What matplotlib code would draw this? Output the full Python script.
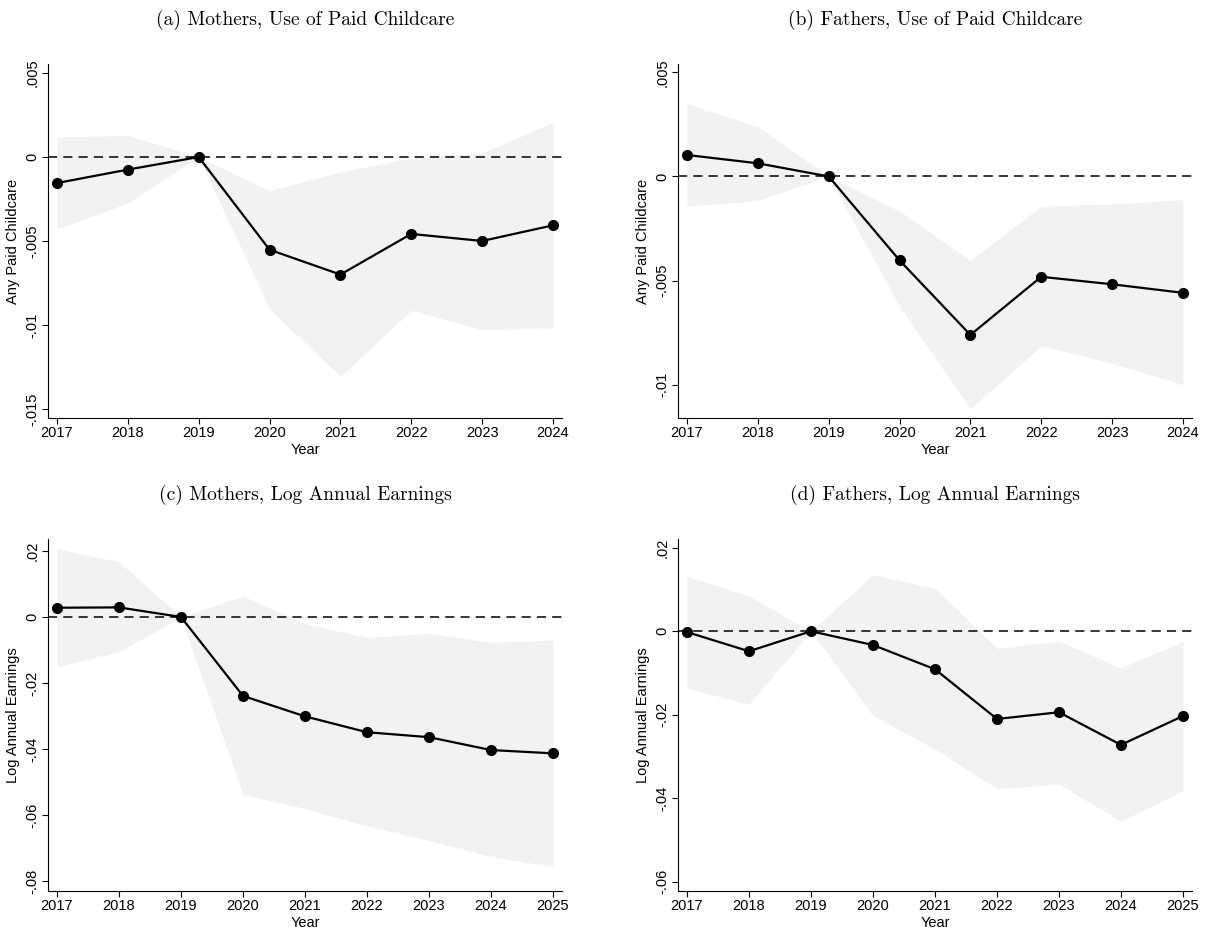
import numpy as np
import matplotlib.pyplot as plt

plt.rcParams['font.family'] = ['Liberation Sans', 'DejaVu Sans']

years_a = [2017, 2018, 2019, 2020, 2021, 2022, 2023, 2024]
years_c = [2017, 2018, 2019, 2020, 2021, 2022, 2023, 2024, 2025]

# (a) mothers, any paid childcare
coef_a = [-0.00155, -0.00075, 0.0, -0.00552, -0.0070, -0.00458, -0.0050, -0.00407]
hi_a = [0.00119, 0.00129, 0.0, -0.0020, -0.00089, -0.00006, 0.00024, 0.00206]
lo_a = [-0.00429, -0.00274, 0.0, -0.00905, -0.01306, -0.00913, -0.01028, -0.01018]

# (b) fathers, any paid childcare
coef_b = [0.00103, 0.00063, 0.0, -0.00403, -0.00761, -0.00482, -0.00518, -0.00559]
hi_b = [0.0035, 0.00239, 0.0, -0.00167, -0.00403, -0.00143, -0.00133, -0.00112]
lo_b = [-0.00143, -0.00116, 0.0, -0.00624, -0.01116, -0.00814, -0.00897, -0.0100]

# (c) mothers, log annual earnings
coef_c = [0.0028, 0.0029, 0.0, -0.0239, -0.0301, -0.0349, -0.0364, -0.0403, -0.0413]
hi_c = [0.0207, 0.0167, 0.0, 0.0063, -0.0020, -0.0062, -0.0050, -0.0077, -0.0070]
lo_c = [-0.0151, -0.0106, 0.0, -0.0538, -0.0580, -0.0633, -0.0677, -0.0726, -0.0756]

# (d) fathers, log annual earnings
coef_d = [-0.0002, -0.0048, 0.0, -0.0033, -0.0091, -0.0210, -0.0194, -0.0272, -0.0203]
hi_d = [0.0132, 0.0084, 0.0, 0.0135, 0.0103, -0.0041, -0.0024, -0.0088, -0.0024]
lo_d = [-0.0136, -0.0175, 0.0, -0.0202, -0.0282, -0.0377, -0.0366, -0.0455, -0.0382]

yticks_care_a = [0.005, 0.0, -0.005, -0.01, -0.015]
yticks_care_b = [0.005, 0.0, -0.005, -0.01]
yticks_earn_c = [0.02, 0.0, -0.02, -0.04, -0.06, -0.08]
yticks_earn_d = [0.02, 0.0, -0.02, -0.04, -0.06]


def stata_label(v):
    # Stata-style labels: drop the leading zero, plain "0" at the origin
    if v == 0:
        return '0'
    return ('%g' % v).replace('0.', '.')


fig = plt.figure(figsize=(12.09, 9.34), dpi=100)

top_row = 0.5525
bot_row = 0.0460
panels = [
    ([0.0397, top_row, 0.4251, 0.379], years_a, coef_a, hi_a, lo_a, yticks_care_a,
     (-0.01554, 0.00554), 'Any Paid Childcare', '(a) Mothers, Use of Paid Childcare'),
    ([0.5608, top_row, 0.4251, 0.379], years_a, coef_b, hi_b, lo_b, yticks_care_b,
     (-0.0116, 0.0054), 'Any Paid Childcare', '(b) Fathers, Use of Paid Childcare'),
    ([0.0397, bot_row, 0.4251, 0.377], years_c, coef_c, hi_c, lo_c, yticks_earn_c,
     (-0.0830, 0.02364), 'Log Annual Earnings', '(c) Mothers, Log Annual Earnings'),
    ([0.5608, bot_row, 0.4251, 0.377], years_c, coef_d, hi_d, lo_d, yticks_earn_d,
     (-0.0622, 0.0221), 'Log Annual Earnings', '(d) Fathers, Log Annual Earnings'),
]

for rect, yrs, coef, hi, lo, yt, ylim, ylab, title in panels:
    ax = fig.add_axes(rect)
    n = len(yrs) - 1
    pad = 9 * n / 496
    ax.fill_between(yrs, lo, hi, color='#f2f2f2', linewidth=0, zorder=1)
    ax.set_xlim(yrs[0] - pad, yrs[-1] + pad)
    ax.axhline(0, color='black', linestyle=(0, (6, 4)), linewidth=1.1, zorder=2)
    ax.plot(yrs, coef, color='black', linewidth=1.6, marker='o', markersize=7, zorder=3)
    ax.set_ylim(*ylim)
    ax.set_yticks(yt)
    ax.set_yticklabels([stata_label(v) for v in yt], rotation=90, va='center', fontsize=10.5)
    ax.set_xticks(yrs)
    ax.set_xticklabels([str(y) for y in yrs], fontsize=10.5)
    ax.tick_params(axis='both', direction='out', length=4, width=0.8, pad=2)
    ax.set_xlabel('Year', fontsize=10.5, labelpad=2)
    ax.set_ylabel(ylab, fontsize=10.5, labelpad=4)
    for side in ['top', 'right']:
        ax.spines[side].set_visible(False)
    for side in ['left', 'bottom']:
        ax.spines[side].set_linewidth(0.8)
    ax.set_title(title, fontfamily='cmr10', fontsize=14, pad=28)

fig.savefig('out.png', dpi=100)
